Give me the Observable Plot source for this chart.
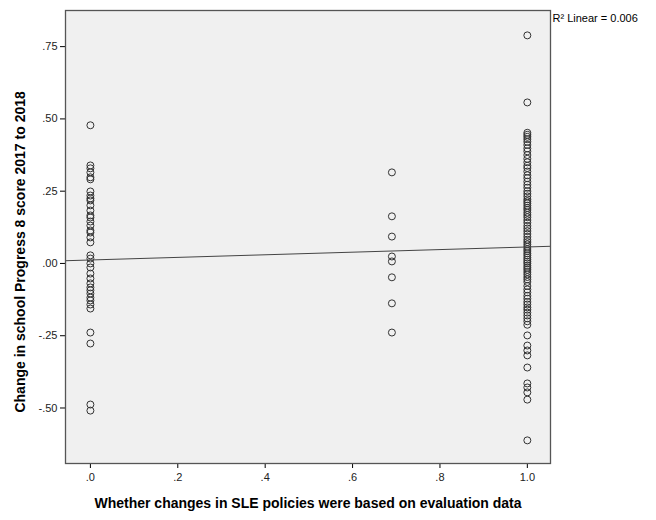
<!DOCTYPE html>
<html>
<head>
<meta charset="utf-8">
<script src="https://cdn.jsdelivr.net/npm/d3@7"></script>
<script src="https://cdn.jsdelivr.net/npm/@observablehq/plot@0.6"></script>
<style>
  html, body { margin: 0; padding: 0; background: #fff; }
  #chart svg { font-family: "Liberation Sans", Arial, sans-serif; }
  g[aria-label="x-axis label"] text { font-weight: bold; font-size: 14px; fill: #000; }
  g[aria-label="x-axis tick label"] text, g[aria-label="y-axis tick label"] text { fill: #222; }
</style>
</head>
<body>
<div id="chart"></div>
<script>
// x categories (evaluation-data variable)
const xCategories = [0, 0.69, 1];

// Change in Progress 8 score, schools at x = 0
const valuesAt0 = [0.478, 0.339, 0.329, 0.315, 0.298, 0.291, 0.249, 0.235, 0.225, 0.218, 0.201, 0.183, 0.166, 0.159,
  0.145, 0.131, 0.114, 0.107, 0.090, 0.073, 0.028, 0.017, 0.000, -0.014, -0.035, -0.052, -0.069, -0.083, -0.093,
  -0.104, -0.118, -0.128, -0.142, -0.156, -0.239, -0.277, -0.488, -0.509];

// schools at x = 0.69
const valuesAtMid = [0.315, 0.163, 0.093, 0.024, 0.007, -0.048, -0.138, -0.239];

// schools at x = 1
const valuesAt1 = [0.789, 0.557, 0.452, 0.445, 0.438, 0.430, 0.421, 0.410, 0.398, 0.388, 0.375, 0.362, 0.350, 0.338,
  0.330, 0.318, 0.305, 0.295, 0.283, 0.272, 0.262, 0.250, 0.241, 0.232, 0.222, 0.215, 0.208, 0.200, 0.192, 0.185,
  0.176, 0.168, 0.160, 0.150, 0.141, 0.130, 0.121, 0.112, 0.102, 0.092, 0.082, 0.074, 0.066, 0.058, 0.050, 0.043,
  0.035, 0.028, 0.020, 0.013, 0.006, 0.000, -0.008, -0.015, -0.022, -0.030, -0.038, -0.047, -0.055, -0.064, -0.078,
  -0.090, -0.100, -0.112, -0.122, -0.133, -0.142, -0.152, -0.160, -0.170, -0.180, -0.190, -0.200, -0.212,
  -0.249, -0.284, -0.301, -0.318, -0.360, -0.415, -0.429, -0.446, -0.471, -0.612];

// tick values
const xTicks = [0, 0.2, 0.4, 0.6, 0.8, 1.0];
const yTicks = [0.75, 0.5, 0.25, 0, -0.25, -0.5];

// fit line
const fitIntercept = 0.012;
const fitSlope = 0.045;
const r2Label = "R² Linear = 0.006";
const xTitle = "Whether changes in SLE policies were based on evaluation data";
const yTitle = "Change in school Progress 8 score 2017 to 2018";

const xDomain = [-0.057, 1.053];
const yDomain = [-0.692, 0.875];

const points = [
  ...valuesAt0.map(v => ({x: xCategories[0], y: v})),
  ...valuesAtMid.map(v => ({x: xCategories[1], y: v})),
  ...valuesAt1.map(v => ({x: xCategories[2], y: v}))
];
const fitLine = xDomain.map(x => ({x, y: fitIntercept + fitSlope * x}));

const fmtY = d => d === 0 ? ".00" : (d < 0 ? "-" : "") + Math.abs(d).toFixed(2).replace(/^0/, "");
const fmtX = d => d.toFixed(1).replace(/^0/, "");

const chart = Plot.plot({
  width: 656,
  height: 520,
  marginLeft: 65,
  marginRight: 106,
  marginTop: 10,
  marginBottom: 57,
  style: {fontFamily: "'Liberation Sans', Arial, sans-serif", fontSize: "11px", background: "#fff"},
  x: {domain: xDomain},
  y: {domain: yDomain},
  marks: [
    Plot.frame({fill: "#f0f0f0", stroke: null}),
    Plot.axisY({ticks: yTicks, tickFormat: fmtY, tickSize: 5, tickPadding: 3, fontSize: 11, label: null}),
    Plot.axisX({ticks: xTicks, tickFormat: fmtX, tickSize: 5, tickPadding: 5, fontSize: 11,
      label: xTitle, labelAnchor: "center", labelOffset: 44, labelArrow: "none"}),
    Plot.text([yTitle], {x: xDomain[0], y: 0.04, text: d => d, rotate: -90, dx: -45, fontSize: 14, fontWeight: "bold", fill: "#000", textAnchor: "middle", clip: false}),
    Plot.dot(points, {x: "x", y: "y", r: 3.5, stroke: "#333", strokeWidth: 1, fill: "none"}),
    Plot.line(fitLine, {x: "x", y: "y", stroke: "#444", strokeWidth: 1}),
    Plot.frame({stroke: "#555", strokeWidth: 1.3}),
    Plot.text([r2Label], {x: xDomain[1], y: yDomain[1], text: d => d, textAnchor: "start", dx: 2, dy: 8, fontSize: 11, fill: "#000", clip: false})
  ]
});
document.getElementById("chart").appendChild(chart);
</script>
</body>
</html>
